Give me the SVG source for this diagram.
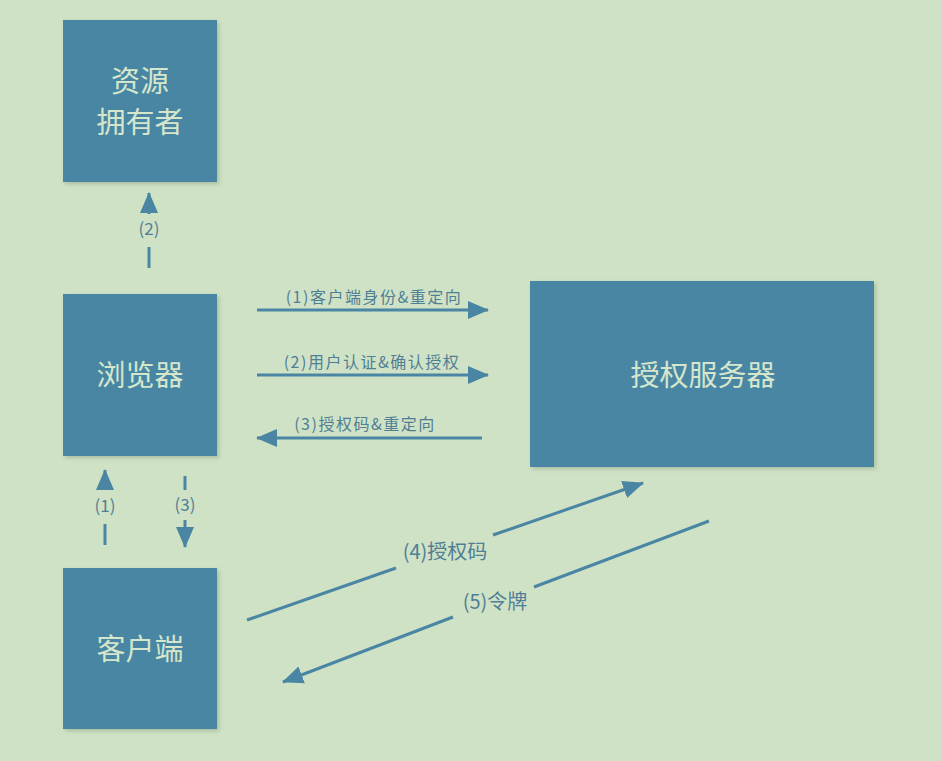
<svg xmlns="http://www.w3.org/2000/svg" width="941" height="761" viewBox="0 0 941 761">
<style>
.box{fill:#4a86a3;}
.bt{fill:#d5e6cc;font-family:"Noto Sans CJK SC","Liberation Sans",sans-serif;text-anchor:middle;font-size:29px;}
.ln{stroke:#4a86a3;stroke-width:3;fill:none;}
.lb{fill:#4f7f96;font-family:"Noto Sans CJK SC","Liberation Sans",sans-serif;text-anchor:middle;}
.sm{font-size:16px;letter-spacing:1.5px;}
</style>
<defs>
<marker id="ah" markerUnits="userSpaceOnUse" markerWidth="22" markerHeight="20" viewBox="0 0 22 20" refX="20" refY="10" orient="auto">
<path d="M0,1 L21,10 L0,19 Z" fill="#4a86a3"/>
</marker>
<filter id="sh" x="-10%" y="-10%" width="125%" height="125%">
<feDropShadow dx="2" dy="2" stdDeviation="2" flood-color="#7a8f74" flood-opacity="0.45"/>
</filter>
</defs>
<rect width="941" height="761" fill="#cfe2c5"/>
<g id="owner"><rect class="box" x="63" y="20" width="154" height="162" filter="url(#sh)"/>
<text class="bt" x="140" y="92">资源</text>
<text class="bt" x="140" y="133">拥有者</text></g>
<g id="browser"><rect class="box" x="63" y="294" width="154" height="162" filter="url(#sh)"/>
<text class="bt" x="140" y="386">浏览器</text></g>
<g id="client"><rect class="box" x="63" y="568" width="154" height="161" filter="url(#sh)"/>
<text class="bt" x="140" y="660">客户端</text></g>
<g id="authserver"><rect class="box" x="530" y="281" width="344" height="186" filter="url(#sh)"/>
<text class="bt" x="703" y="386">授权服务器</text></g>
<g id="connectors">
<line class="ln" x1="149" y1="268" x2="149" y2="247"/>
<line class="ln" x1="149" y1="214" x2="149" y2="193" marker-end="url(#ah)"/>
<text class="lb" x="149" y="235" font-size="17">(2)</text>
<line class="ln" x1="105" y1="545" x2="105" y2="524"/>
<line class="ln" x1="105" y1="490" x2="105" y2="470" marker-end="url(#ah)"/>
<text class="lb" x="105" y="512" font-size="17">(1)</text>
<line class="ln" x1="185" y1="476" x2="185" y2="490"/>
<line class="ln" x1="185" y1="520" x2="185" y2="547" marker-end="url(#ah)"/>
<text class="lb" x="185" y="511" font-size="17">(3)</text>
<line class="ln" x1="257" y1="310" x2="488" y2="310" marker-end="url(#ah)"/>
<text class="lb sm" x="374" y="303">(1)客户端身份&amp;重定向</text>
<line class="ln" x1="257" y1="375" x2="488" y2="375" marker-end="url(#ah)"/>
<text class="lb sm" x="372" y="368">(2)用户认证&amp;确认授权</text>
<line class="ln" x1="482" y1="438" x2="257" y2="438" marker-end="url(#ah)"/>
<text class="lb sm" x="365" y="430">(3)授权码&amp;重定向</text>
<line class="ln" x1="247" y1="620" x2="396" y2="568"/>
<line class="ln" x1="493" y1="535" x2="643" y2="483" marker-end="url(#ah)"/>
<text class="lb" x="445" y="559" font-size="20">(4)授权码</text>
<line class="ln" x1="709" y1="521" x2="534" y2="587"/>
<line class="ln" x1="453" y1="617" x2="283" y2="682" marker-end="url(#ah)"/>
<text class="lb" x="495" y="609" font-size="20">(5)令牌</text>
</g>
</svg>
